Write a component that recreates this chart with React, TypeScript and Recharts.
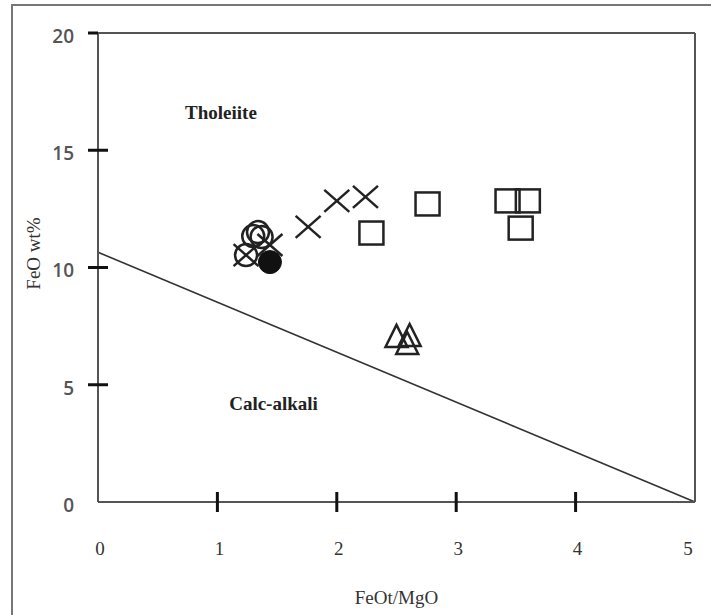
import React from 'react';
import { ScatterChart, Scatter, XAxis, YAxis, ReferenceLine } from 'recharts';

const xTicks = [0, 1, 2, 3, 4, 5];
const yTicks = [0, 5, 10, 15, 20];
const boundary = [
  { x: 0, y: 10.65 },
  { x: 5, y: 0 },
];
const openCircles = [
  { x: 1.34, y: 11.51 },
  { x: 1.3, y: 11.34 },
  { x: 1.37, y: 11.3 },
  { x: 1.24, y: 10.53 },
];
const filledCircles = [{ x: 1.44, y: 10.23 }];
const crosses = [
  { x: 1.24, y: 10.53 },
  { x: 1.44, y: 10.96 },
  { x: 1.76, y: 11.73 },
  { x: 2.0, y: 12.84 },
  { x: 2.24, y: 13.01 },
];
const squares = [
  { x: 2.29, y: 11.47 },
  { x: 2.76, y: 12.71 },
  { x: 3.43, y: 12.84 },
  { x: 3.6, y: 12.84 },
  { x: 3.54, y: 11.68 },
];
const triangles = [
  { x: 2.5, y: 7.04 },
  { x: 2.61, y: 7.08 },
  { x: 2.59, y: 6.74 },
];
const regionLabels = [
  { x: 1.03, y: 16.63, text: 'Tholeiite' },
  { x: 1.47, y: 4.22, text: 'Calc-alkali' },
];

const SERIF = '"Liberation Serif", "Times New Roman", serif';
const INK = '#222';

const XTick = (props: any) => {
  const { x, y, payload } = props;
  const v = payload.value;
  const inner = v > 0 && v < 5;
  return (
    <g>
      {inner && <line x1={x} x2={x} y1={y - 10} y2={y + 10} stroke="#111" strokeWidth={3} />}
      <text
        x={x + (v === 5 ? -7 : 2)}
        y={y + 46}
        dy="0.36em"
        textAnchor="middle"
        fontFamily={SERIF}
        fontSize={19}
        fill="#333"
      >
        {v}
      </text>
    </g>
  );
};

const YTick = (props: any) => {
  const { x, y, payload } = props;
  const v = payload.value;
  return (
    <g>
      {v > 0 && (
        <line x1={x - 10} x2={v === 20 ? x : x + 10} y1={y} y2={y} stroke="#111" strokeWidth={3} />
      )}
      <text
        x={x - 24}
        y={y + 3}
        dy="0.36em"
        textAnchor="end"
        fontFamily='"Open Sans", sans-serif'
        fontWeight={600}
        fontSize={19}
        fill="#555"
      >
        {v}
      </text>
    </g>
  );
};

const renderYLabel = (props: any) => {
  const vb = props.viewBox || { x: 0, y: 33, width: 98, height: 469 };
  const cx = vb.x + 33;
  const cy = vb.y + vb.height / 2 - 14;
  return (
    <text
      x={cx}
      y={cy}
      transform={`rotate(-90, ${cx}, ${cy})`}
      textAnchor="middle"
      dy="0.36em"
      fontFamily={SERIF}
      fontSize={19}
      fill="#333"
    >
      FeO wt%
    </text>
  );
};

const renderXLabel = (props: any) => {
  const vb = props.viewBox || { x: 98, y: 502, width: 597, height: 113 };
  const cx = vb.x + vb.width / 2;
  const cy = vb.y + 95;
  return (
    <text x={cx} y={cy} dy="0.36em" textAnchor="middle" fontFamily={SERIF} fontSize={19} fill="#333">
      FeOt/MgO
    </text>
  );
};

const OpenCircle = (p: any) => (
  <circle cx={p.cx} cy={p.cy} r={11} fill="none" stroke={INK} strokeWidth={2.5} />
);
const FilledCircle = (p: any) => <circle cx={p.cx} cy={p.cy} r={11.5} fill="#111" stroke="#111" />;
const Cross = (p: any) => (
  <g stroke={INK} strokeWidth={2.5}>
    <line x1={p.cx - 12.5} y1={p.cy - 11} x2={p.cx + 12.5} y2={p.cy + 11} />
    <line x1={p.cx - 12.5} y1={p.cy + 11} x2={p.cx + 12.5} y2={p.cy - 11} />
  </g>
);
const Square = (p: any) => (
  <rect x={p.cx - 12} y={p.cy - 11.5} width={24} height={23} fill="none" stroke={INK} strokeWidth={2.5} />
);
const Triangle = (p: any) => (
  <path
    d={`M${p.cx},${p.cy - 12} L${p.cx + 11},${p.cy + 10} L${p.cx - 11},${p.cy + 10} Z`}
    fill="none"
    stroke={INK}
    strokeWidth={2.5}
    strokeLinejoin="miter"
  />
);
const RegionText = (p: any) => (
  <text
    x={p.cx}
    y={p.cy}
    dy="0.36em"
    textAnchor="middle"
    fontFamily={SERIF}
    fontWeight={700}
    fontSize={19}
    fill="#222"
  >
    {p.payload.text}
  </text>
);

export default function App() {
  return (
    <div style={{ position: 'absolute', left: 0, top: 0, width: 711, height: 615, overflow: 'hidden', background: '#fff' }}>
      <div
        style={{
          position: 'absolute',
          left: 11,
          top: 4,
          width: 800,
          height: 800,
          borderLeft: '2.5px solid #777',
          borderTop: '2.5px solid #777',
          boxSizing: 'border-box',
        }}
      />
      <div style={{ position: 'absolute', left: 0, top: 0 }}>
        <ScatterChart width={711} height={615} margin={{ top: 33, right: 16, bottom: 0, left: 0 }}>
          <XAxis
            type="number"
            dataKey="x"
            domain={[0, 5]}
            ticks={xTicks}
            interval={0}
            height={113}
            tickSize={0}
            tickMargin={0}
            tickLine={false}
            axisLine={{ stroke: '#555', strokeWidth: 2 }}
            tick={<XTick />}
            allowDataOverflow
            label={{ content: renderXLabel }}
          />
          <YAxis
            type="number"
            dataKey="y"
            domain={[0, 20]}
            ticks={yTicks}
            interval={0}
            width={98}
            tickSize={0}
            tickMargin={0}
            tickLine={false}
            axisLine={{ stroke: '#555', strokeWidth: 2 }}
            tick={<YTick />}
            allowDataOverflow
            label={{ content: renderYLabel }}
          />
          <ReferenceLine y={20} stroke="#555" strokeWidth={2} />
          <ReferenceLine x={5} stroke="#555" strokeWidth={2} />
          <ReferenceLine
            segment={boundary}
            stroke="#333"
            strokeWidth={1.6}
            ifOverflow="visible"
          />
          <Scatter data={regionLabels} shape={RegionText} isAnimationActive={false} />
          <Scatter data={openCircles} shape={OpenCircle} isAnimationActive={false} />
          <Scatter data={filledCircles} shape={FilledCircle} isAnimationActive={false} />
          <Scatter data={crosses} shape={Cross} isAnimationActive={false} />
          <Scatter data={squares} shape={Square} isAnimationActive={false} />
          <Scatter data={triangles} shape={Triangle} isAnimationActive={false} />
        </ScatterChart>
      </div>
    </div>
  );
}
